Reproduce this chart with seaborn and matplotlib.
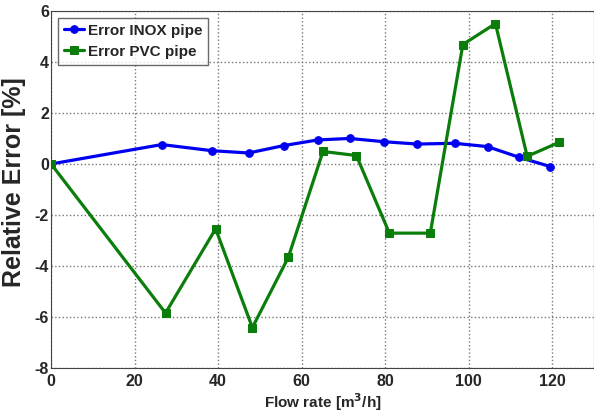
import numpy as np
import pandas as pd
import matplotlib
matplotlib.use("Agg")
import matplotlib.pyplot as plt
import seaborn as sns

# data
inox_flow = [0, 26.5, 38.5, 47.3, 55.7, 63.8, 71.5, 79.8, 87.7, 96.6, 104.5, 112.1, 119.5]
inox_err = [0, 0.76, 0.52, 0.43, 0.72, 0.94, 1.0, 0.87, 0.78, 0.81, 0.68, 0.26, -0.1]
pvc_flow = [0, 27.4, 39.4, 48.2, 56.8, 65.1, 73.1, 81.0, 90.8, 98.6, 106.4, 114.0, 121.7]
pvc_err = [0, -5.84, -2.54, -6.41, -3.66, 0.49, 0.33, -2.71, -2.71, 4.68, 5.5, 0.3, 0.85]

sns.set_style("white")
plt.rcParams['font.family'] = ['Liberation Sans', 'DejaVu Sans']
plt.rcParams['font.weight'] = 'bold'
plt.rcParams['axes.unicode_minus'] = False

df_inox = pd.DataFrame({'flow': inox_flow, 'err': inox_err})
df_pvc = pd.DataFrame({'flow': pvc_flow, 'err': pvc_err})

fig = plt.figure(figsize=(5.94, 4.16), dpi=100)
ax = fig.add_axes([0.086, 0.115, 0.914, 0.859])

sns.lineplot(data=df_inox, x='flow', y='err', ax=ax, color='#0000f0', lw=2.3,
             marker='o', markersize=5.5, markeredgecolor='#0000f0', label='Error INOX pipe',
             sort=False)
sns.lineplot(data=df_pvc, x='flow', y='err', ax=ax, color='#0b7d0b', lw=2.3,
             marker='s', markersize=5.5, markeredgecolor='#0b7d0b', label='Error PVC pipe',
             sort=False)

ax.set_xlim(0, 130)
ax.set_ylim(-8, 6)
ax.set_xticks([0, 20, 40, 60, 80, 100, 120])
ax.set_yticks([-8, -6, -4, -2, 0, 2, 4, 6])
ax.grid(True, linestyle=':', color='#777777', lw=1)
for s in ax.spines.values():
    s.set_color('#444444')
ax.tick_params(labelsize=11.5, length=0)
ax.tick_params(axis='x', pad=4.5)
ax.tick_params(axis='y', pad=1.5)
for t in ax.get_xticklabels() + ax.get_yticklabels():
    t.set_fontweight('bold')

ax.set_xlabel('Flow rate [m$^3$/h]', fontsize=11, fontweight='bold', labelpad=1.5)
ax.set_ylabel('Relative Error [%]', fontsize=18, fontweight='bold')
ax.yaxis.set_label_coords(-0.046, 0.52)

leg = ax.legend(loc='upper left', fontsize=11, frameon=True, fancybox=False,
                edgecolor='#444444', handlelength=1.3, borderpad=0.4,
                labelspacing=0.45, handletextpad=0.25, borderaxespad=0.45)
leg.get_frame().set_linewidth(1.0)
for t in leg.get_texts():
    t.set_fontweight('bold')

fig.savefig('out.png', dpi=100)
